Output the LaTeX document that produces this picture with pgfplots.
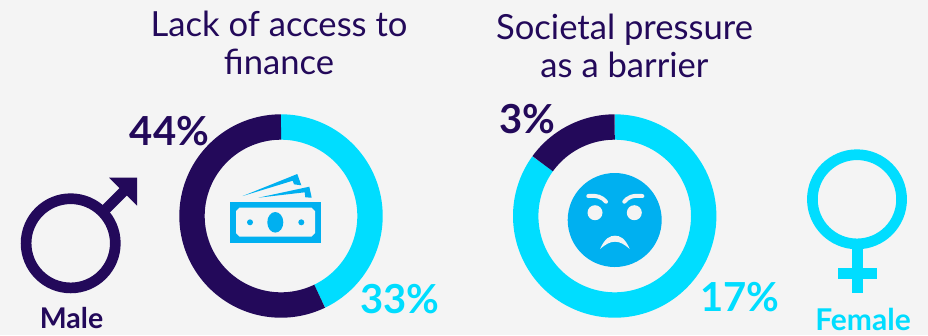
\documentclass[border=0pt]{standalone}
\usepackage{pgfplots}
\usepackage{pgfplotstable}
\usepackage{fontspec}
\pgfplotsset{compat=1.18}
\setmainfont{Lato}
\definecolor{ink}{HTML}{23095A}
\definecolor{aqua}{HTML}{00DDFF}
\definecolor{sky}{HTML}{00B0F0}
\definecolor{paper}{HTML}{F4F4F4}

% Share of respondents naming each barrier
\pgfplotstableread{
barrier male female
finance 44 33
pressure 3 17
}\barriers

\pgfplotstablegetelem{0}{male}\of\barriers\let\fM\pgfplotsretval
\pgfplotstablegetelem{0}{female}\of\barriers\let\fF\pgfplotsretval
\pgfplotstablegetelem{1}{male}\of\barriers\let\pM\pgfplotsretval
\pgfplotstablegetelem{1}{female}\of\barriers\let\pF\pgfplotsretval
\pgfmathsetmacro\fT{\fM+\fF}
\pgfmathsetmacro\pT{\pM+\pF}

\newcommand{\ringseg}[6]{% colour, centre x, centre y, total, from, to
  \addplot[#1, line width=25.4pt, no marks, samples=150, variable=\t, domain=#5:#6]
    ({#2+89*sin(\t/#4*360)},{#3-89*cos(\t/#4*360)});
}

\begin{document}
\begin{tikzpicture}
\begin{axis}[
  hide axis, scale only axis, x=1pt, y=1pt,
  xmin=0, xmax=928, ymin=0, ymax=335, y dir=reverse,
  clip=false, anchor=origin, at={(0,0)}
]
\fill[paper] (0,0) rectangle (928,335);

% Doughnuts: female share runs clockwise from twelve o'clock
\ringseg{aqua}{281}{216}{\fT}{0}{\fF}
\ringseg{ink}{281}{216}{\fT}{\fF}{\fT}
\ringseg{aqua}{614.7}{216}{\pT}{0}{\pF}
\ringseg{ink}{614.7}{216}{\pT}{\pF}{\pT}

% Titles
\node[ink, font=\fontsize{34.6}{38}\selectfont, align=center, anchor=center] at (279,43)
  {Lack of access to\\finance};
\node[ink, font=\fontsize{34.6}{38}\selectfont, align=center, anchor=center] at (624.5,46)
  {Societal pressure\\as a barrier};

% Percentages
\node[ink, font=\fontsize{40}{40}\selectfont\bfseries, anchor=center] at (169.5,131) {44\%};
\node[aqua, font=\fontsize{40}{40}\selectfont\bfseries, anchor=center] at (400,299) {33\%};
\node[ink, font=\fontsize{40}{40}\selectfont\bfseries, anchor=center] at (527,119) {3\%};
\node[aqua, font=\fontsize{40}{40}\selectfont\bfseries, anchor=center] at (740,297) {17\%};

% Male symbol
\draw[ink, line width=10.7pt] (70.7,243.3) circle[radius=44.6pt];
\draw[ink, line width=10.5pt] (106,209) -- (126,189);
\fill[ink] (109,177.7) -- (137,177.7) -- (137,205.7) -- cycle;
\node[ink, font=\fontsize{28.5}{30}\selectfont\bfseries, anchor=center] at (71.5,318) {Male};

% Female symbol
\draw[aqua, line width=10.7pt] (857,199.3) circle[radius=44.6pt];
\fill[aqua] (851.5,248) rectangle (862.5,292.5);
\fill[aqua] (837.7,267.7) rectangle (877,278.7);
\node[aqua, font=\fontsize{30}{32}\selectfont\bfseries, anchor=center, inner sep=0pt] at (863,319) {Female};

% Banknotes icon
\fill[sky] (230,201.7) rectangle (320.7,243);
\fill[paper] (239.5,207.7) -- (311.5,207.7) -- (315,211.2) -- (315,233.2) -- (311.5,236.7)
  -- (239.5,236.7) -- (236,233.2) -- (236,211.2) -- cycle;
\fill[sky] (275.3,222.3) ellipse[x radius=8pt, y radius=10.3pt];
\fill[sky] (250,222.3) circle[radius=3pt];
\fill[sky] (301.3,222.3) circle[radius=3pt];
\fill[sky] (242.7,196) -- (297.3,174) -- (301.3,185.3) -- (294,184.3) -- (292.7,180.7) -- cycle;
\fill[sky] (258.3,197.7) -- (309.3,186.7) -- (311.7,197.7) -- (305.3,197.3) -- (304.7,192.3) -- cycle;

% Frowning face icon
\fill[sky] (614.7,220) circle[radius=47pt];
\fill[paper] (595,212.7) circle[radius=7.5pt];
\fill[paper] (634.3,212.7) circle[radius=7.5pt];
\draw[paper, line width=4pt, line cap=round] (588.3,196) .. controls (597,195) and (602,197) .. (606,201.7);
\draw[paper, line width=4pt, line cap=round] (642.3,196) .. controls (633,195) and (628,197) .. (624.3,201.7);
\fill[paper] (600,249) .. controls (605,238) and (610,235.7) .. (615,235.7)
  .. controls (620,235.7) and (625,238) .. (629.7,249)
  .. controls (624,244) and (620,241.7) .. (615,241.7)
  .. controls (610,241.7) and (606,244) .. (600,249) -- cycle;
\end{axis}
\end{tikzpicture}
\end{document}
